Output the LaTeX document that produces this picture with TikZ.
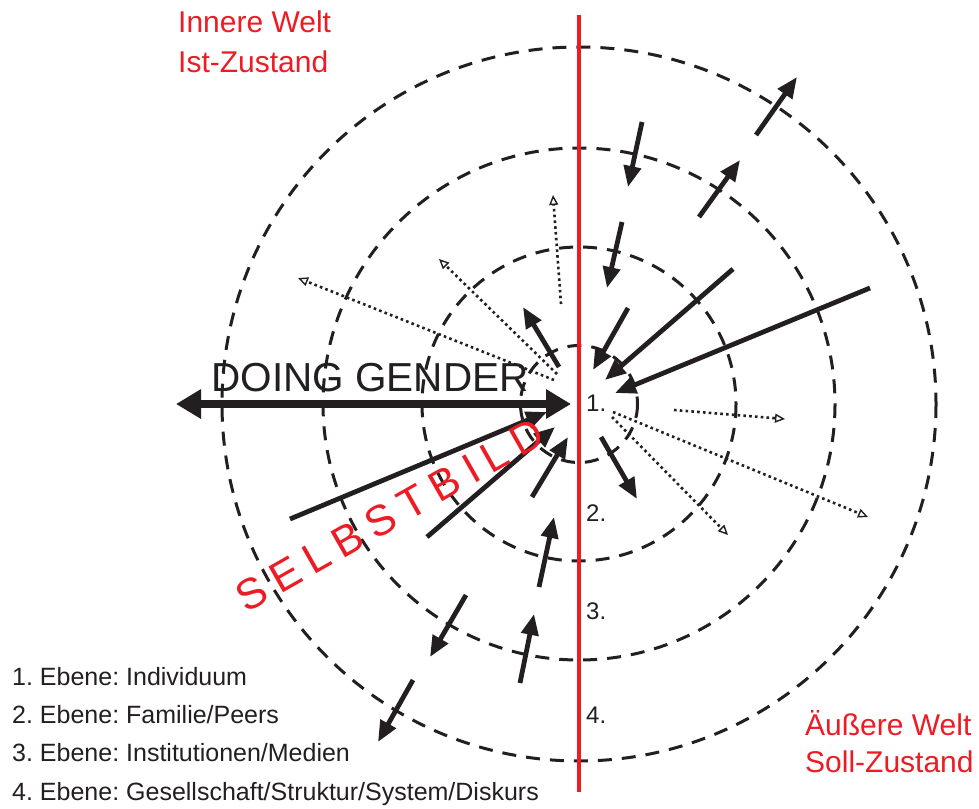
\documentclass[tikz,border=0pt]{standalone}
\usepackage{fontspec}
\setmainfont{Liberation Sans}
\usetikzlibrary{arrows.meta}
\definecolor{ink}{RGB}{35,31,32}
\definecolor{welt}{RGB}{237,28,36}
\tikzset{
  ring/.style={draw=ink, line width=3pt, dash pattern=on 14pt off 10pt},
  push/.style={draw=ink, line width=4.8pt, -{Triangle[length=21pt,width=17pt]}},
  hint/.style={draw=ink, line width=2.6pt, dash pattern=on 2.6pt off 3.2pt,
    -{Triangle[open,length=10pt,width=9pt,line width=1.4pt]}},
  doing/.style={draw=ink, line width=7.5pt,
    {Triangle[length=25pt,width=28pt]}-{Triangle[length=25pt,width=28pt]}},
  lbl/.style={inner sep=0pt, anchor=base west},
  redtxt/.style={lbl, text=welt, font=\fontsize{30}{36}\selectfont},
  legend/.style={lbl, text=ink, font=\fontsize{25}{30}\selectfont},
  level/.style={lbl, text=ink, font=\fontsize{24}{28}\selectfont}
}
\begin{document}
\frenchspacing
\begin{tikzpicture}[x=1pt,y=-1pt]
\useasboundingbox (0,0) rectangle (979,808);
\fill[white] (0,0) rectangle (979,808);

% concentric levels
\coordinate (c) at (579,404);
\foreach \r in {58.5,157,256,357}
  \draw[ring] (c) circle[radius=\r];

% dividing line between the inner and the outer world
\draw[welt, line width=3.5pt] (579,15) coordinate (top) -- (579,792) coordinate (bot);

% level numbers
\node[level] (n1) at (586,411) {1.};
\node[level] (n2) at (586,521) {2.};
\node[level] (n3) at (586,619) {3.};
\node[level] (n4) at (586,723) {4.};

% influences pointing inward (right side)
\draw[push] (642,122) coordinate (a1s) -- (628,187) coordinate (a1e);
\draw[push] (622,222) coordinate (a2s) -- (607,288) coordinate (a2e);
\draw[push] (628,308) coordinate (a3s) -- (593,370) coordinate (a3e);
\draw[push] (733,269) coordinate (a4s) -- (605,380) coordinate (a4e);
\draw[push] (870,288) coordinate (a5s) -- (615,393) coordinate (a5e);
% pointing outward (right side)
\draw[push] (699,217) coordinate (a6s) -- (740,160) coordinate (a6e);
\draw[push] (756,135) coordinate (a7s) -- (797,77) coordinate (a7e);
\draw[push] (601,437) coordinate (a16s) -- (637,499) coordinate (a16e);
% left side
\draw[push] (559,367) coordinate (a8s) -- (523,307) coordinate (a8e);
\draw[push] (290,519) coordinate (a9s) -- (547,412) coordinate (a9e);
\draw[push] (427,537) coordinate (a10s) -- (555,427) coordinate (a10e);
\draw[push] (532,497) coordinate (a11s) -- (568,437) coordinate (a11e);
\draw[push] (539,587) coordinate (a12s) -- (554,517) coordinate (a12e);
\draw[push] (520,683) coordinate (a13s) -- (534,614) coordinate (a13e);
\draw[push] (466,595) coordinate (a14s) -- (430,657) coordinate (a14e);
\draw[push] (413,680) coordinate (a15s) -- (378,742) coordinate (a15e);

% weak influences
\draw[hint] (674,410) coordinate (d1s) -- (785,419) coordinate (d1e);
\draw[hint] (613,412) coordinate (d2s) -- (868,517) coordinate (d2e);
\draw[hint] (612,417) coordinate (d3s) -- (728,535) coordinate (d3e);
\draw[hint] (554,380) coordinate (d4s) -- (298,278) coordinate (d4e);
\draw[hint] (557,374) coordinate (d5s) -- (439,259) coordinate (d5e);
\draw[hint] (561,304) coordinate (d6s) -- (553,195) coordinate (d6e);

% doing gender
\draw[doing] (176,404) coordinate (dgl) -- (571,404) coordinate (dgr);
\node[inner sep=0pt, anchor=base, text=ink, font=\fontsize{40.5}{48}\selectfont]
  (dg) at (370,391) {DOING GENDER};

% self image
\node[inner sep=0pt, text=welt, rotate=29.6, font=\fontsize{43}{50}\selectfont]
  (sb) at (390,515)
  {S\hspace{9.5pt}E\hspace{9.5pt}L\hspace{9.5pt}B\hspace{9.5pt}S\hspace{9.5pt}T\hspace{9.5pt}B\hspace{9.5pt}I\hspace{9.5pt}L\hspace{9.5pt}D};

% world labels
\node[redtxt] (iw) at (178,33) {Innere Welt};
\node[redtxt] (iz) at (178,72) {Ist-Zustand};
\node[redtxt] (aw) at (805,735) {Äußere Welt};
\node[redtxt] (sz) at (805,772) {Soll-Zustand};

% legend
\node[legend] (l1) at (12,685) {1. Ebene: Individuum};
\node[legend] (l2) at (12,723) {2. Ebene: Familie/Peers};
\node[legend] (l3) at (12,761) {3. Ebene: Institutionen/Medien};
\node[legend] (l4) at (12,800) {4. Ebene: Gesellschaft/Struktur/System/Diskurs};
\end{tikzpicture}
\end{document}
